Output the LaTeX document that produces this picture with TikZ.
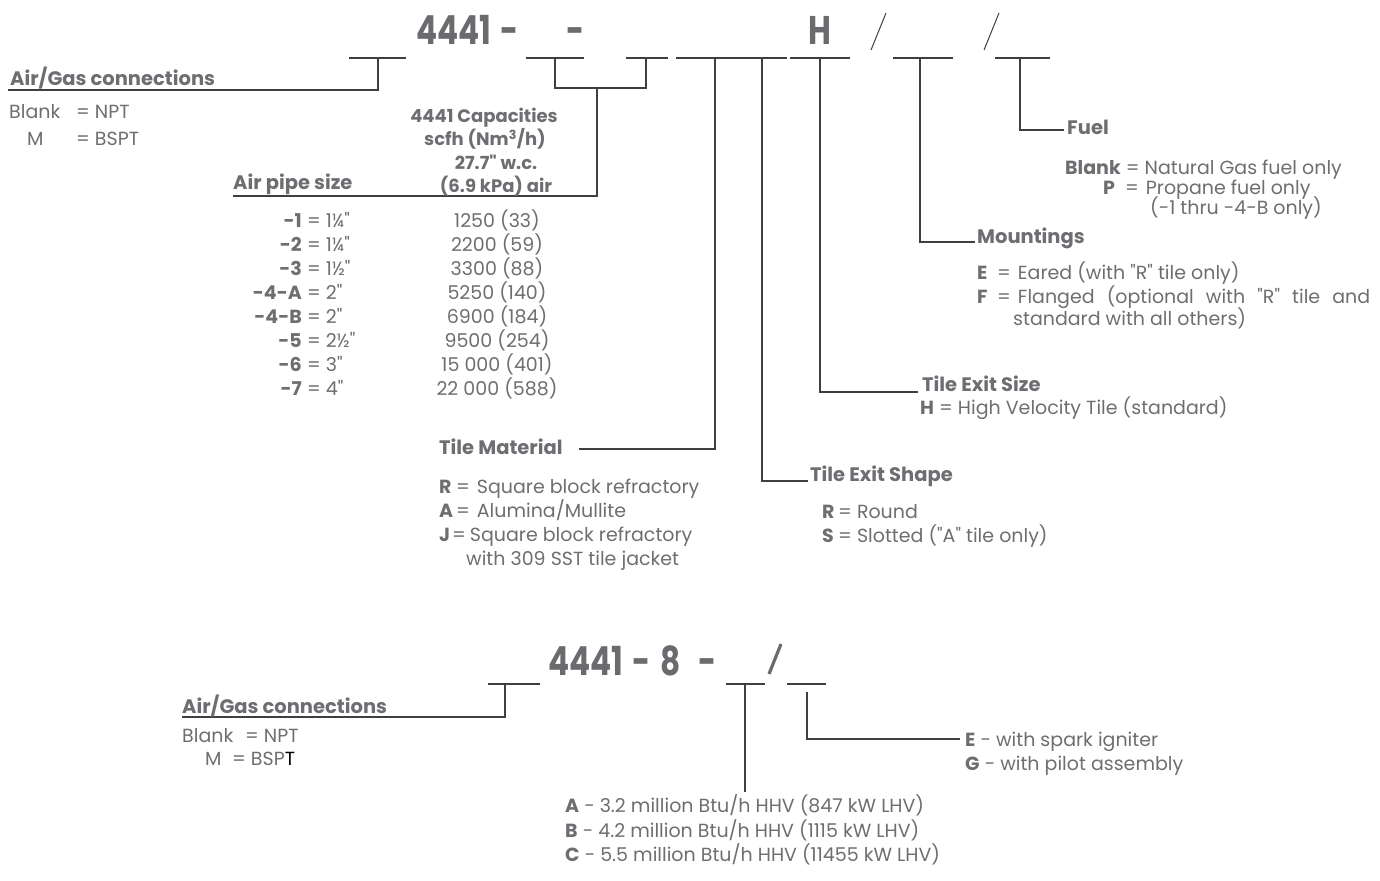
\documentclass[tikz,border=0pt]{standalone}
\usepackage{fontspec}
\setmainfont{Poppins}[Ligatures=TeXOff]
\newfontfamily\bigfam{Poppins}[FakeStretch=0.78]
\definecolor{tg}{HTML}{6D6E71}
\definecolor{bg}{HTML}{6A6B6E}
\definecolor{lg}{HTML}{3F3F3F}
\newcommand\rfont{\fontsize{19}{22}\selectfont}
\newcommand\hfont{\fontsize{19.5}{22}\selectfont\bfseries}
\newcommand\cfont{\fontsize{18}{22}\selectfont\bfseries}
\newcommand\bigfnt{\bigfam\fontsize{40}{44}\selectfont\bfseries}
\begin{document}
\begin{tikzpicture}[x=1pt,y=-1pt,
  txt/.style={inner sep=0pt, anchor=base west, text=tg, font=\rfont},
  txtc/.style={txt, anchor=base},
  txte/.style={txt, anchor=base east},
  hd/.style={txt, font=\hfont},
  hdc/.style={txt, anchor=base, font=\cfont},
  big/.style={txt, font=\bigfnt, text=bg},
  ln/.style={draw=lg, line width=1.2pt},
  sl/.style={draw=lg, line width=1pt},
  bsl/.style={draw=bg, line width=3.2pt}]
\useasboundingbox (0,0) rectangle (1380,880);

% ---------------- top code line ----------------
\node[big] (n4441) at (416,45) {4441};
\node[big] (dash0) at (500,45) {-};
\node[big] (dash1) at (566,45) {-};
\node[big] (hh) at (808,45) {H};
\coordinate (s1a) at (871,50); \coordinate (s1b) at (886,13);
\coordinate (s2a) at (984,50); \coordinate (s2b) at (999,13);
\draw[sl] (s1a) -- (s1b);
\draw[sl] (s2a) -- (s2b);

% segments
\coordinate (A1) at (349,58); \coordinate (A2) at (406,58);
\coordinate (B1) at (526,58); \coordinate (B2) at (584,58);
\coordinate (C1) at (626,58); \coordinate (C2) at (668,58);
\coordinate (D1) at (676,58); \coordinate (D2) at (787,58);
\coordinate (E1) at (790,58); \coordinate (E2) at (850,58);
\coordinate (F1) at (893,58); \coordinate (F2) at (953,58);
\coordinate (G1) at (995,58); \coordinate (G2) at (1050,58);
\foreach \s in {A,B,C,D,E,F,G} {\draw[ln] (\s1) -- (\s2);}

% A: air/gas connections
\coordinate (Ad) at (378,58); \coordinate (Ab) at (378,90); \coordinate (Al) at (8,90);
\draw[ln] (Ad) -- (Ab) -- (Al);
% B/C: air pipe size
\coordinate (Bd) at (555,58); \coordinate (Bb) at (555,88);
\coordinate (Cd) at (646,58); \coordinate (Cb) at (646,88);
\coordinate (BCm) at (597,88); \coordinate (BCb) at (597,196); \coordinate (BCl) at (233,196);
\draw[ln] (Bd) -- (Bb) -- (Cb) -- (Cd);
\draw[ln] (BCm) -- (BCb) -- (BCl);
% D: tile material, tile exit shape
\coordinate (Dd1) at (715,58); \coordinate (Dd1b) at (715,449); \coordinate (Dl) at (579,449);
\coordinate (Dd2) at (762,58); \coordinate (Dd2b) at (762,481); \coordinate (Dr) at (808,481);
\draw[ln] (Dd1) -- (Dd1b) -- (Dl);
\draw[ln] (Dd2) -- (Dd2b) -- (Dr);
% E: tile exit size
\coordinate (Ed) at (820,58); \coordinate (Eb) at (820,392); \coordinate (Er) at (918,392);
\draw[ln] (Ed) -- (Eb) -- (Er);
% F: mountings
\coordinate (Fd) at (920,58); \coordinate (Fb) at (920,242); \coordinate (Fr) at (975,242);
\draw[ln] (Fd) -- (Fb) -- (Fr);
% G: fuel
\coordinate (Gd) at (1020,58); \coordinate (Gb) at (1020,130); \coordinate (Gr) at (1064,130);
\draw[ln] (Gd) -- (Gb) -- (Gr);

% ---------------- Air/Gas connections ----------------
\node[hd] (agc) at (10,86) {Air/Gas connections};
\node[txt] (agc1a) at (9,119) {Blank};
\node[txt] (agc1b) at (76,119) {= NPT};
\node[txt] (agc2a) at (27,145) {M};
\node[txt] (agc2b) at (76,145) {= BSPT};

% ---------------- Capacities ----------------
\node[hdc] (cap1) at (484,123) {4441 Capacities};
\node[hdc] (cap2) at (485,146) {scfh (Nm\textsuperscript{3}/h)};
\node[hdc] (cap3) at (496,169) {27.7" w.c.};
\node[hdc] (cap4) at (496,192) {(6.9 kPa) air};

\node[hd] (aps) at (233,189) {Air pipe size};
\foreach \k/\a/\b/\c [count=\i from 0] in {p1/-1/1¼"/1250 (33), p2/-2/1¼"/2200 (59), p3/-3/1½"/3300 (88), p4/-4-A/2"/5250 (140), p5/-4-B/2"/6900 (184), p6/-5/2½"/9500 (254), p7/-6/3"/15 000 (401), p8/-7/4"/22 000 (588)} {
  \node[txte, font=\rfont\bfseries] (\k a) at (302,227+24*\i) {\a};
  \node[txt] (\k b) at (307,227+24*\i) {= \b};
  \node[txtc] (\k c) at (497,227+24*\i) {\c};
}

% ---------------- Tile material ----------------
\node[hd] (tm) at (439,454) {Tile Material};
\node[txt] (tm1) at (439,493) {\makebox[17pt][l]{\bfseries R}=\hspace{7pt}Square block refractory};
\node[txt] (tm2) at (439,517) {\makebox[17pt][l]{\bfseries A}=\hspace{7pt}Alumina/Mullite};
\node[txt] (tm3) at (439,541) {\makebox[13pt][l]{\bfseries J}=\hspace{4pt}Square block refractory};
\node[txt] (tm4) at (466,565) {with 309 SST tile jacket};

% ---------------- Tile exit shape ----------------
\node[hd] (tes) at (810,481) {Tile Exit Shape};
\node[txt] (tes1) at (822,518) {\makebox[16pt][l]{\bfseries R}= Round};
\node[txt] (tes2) at (822,542) {\makebox[16pt][l]{\bfseries S}= Slotted ("A" tile only)};

% ---------------- Tile exit size ----------------
\node[hd] (tsz) at (922,391) {Tile Exit Size};
\node[txt] (tsz1) at (920,414) {{\bfseries H} = High Velocity Tile (standard)};

% ---------------- Mountings ----------------
\node[hd] (mnt) at (977,243) {Mountings};
\node[txt] (mnt1) at (977,279) {\makebox[20pt][l]{\bfseries E}=\hspace{7pt}Eared (with "R" tile only)};
\node[txt] (mnt2) at (977,303) {\makebox[393pt][s]{\makebox[20pt][l]{\bfseries F}=\hspace{7pt}Flanged (optional with "R" tile and}};
\node[txt] (mnt3) at (1013,325) {standard with all others)};

% ---------------- Fuel ----------------
\node[hd] (fuel) at (1067,135) {Fuel};
\node[txt] (fuel1) at (1065,174) {{\bfseries Blank} = Natural Gas fuel only};
\node[txt] (fuel2) at (1103,194) {\makebox[22pt][l]{\bfseries P}=\hspace{7pt}Propane fuel only};
\node[txt] (fuel3) at (1150,214) {(-1 thru -4-B only)};

% ---------------- bottom code line ----------------
\node[big] (b4441) at (548,675) {4441};
\node[big] (bd1) at (632,675) {-};
\node[big] (b8) at (660,675) {8};
\node[big] (bd2) at (698,675) {-};
\coordinate (bs1) at (769,674); \coordinate (bs2) at (781,644);
\draw[bsl] (bs1) -- (bs2);
\coordinate (L1a) at (488,684); \coordinate (L1b) at (540,684);
\coordinate (L2a) at (726,684); \coordinate (L2b) at (765,684);
\coordinate (L3a) at (787,684); \coordinate (L3b) at (826,684);
\foreach \s in {L1,L2,L3} {\draw[ln] (\s a) -- (\s b);}
\coordinate (L1d) at (505,684); \coordinate (L1e) at (505,717); \coordinate (L1f) at (182,717);
\draw[ln] (L1d) -- (L1e) -- (L1f);
\coordinate (L2d) at (745,684); \coordinate (L2e) at (745,792);
\draw[ln] (L2d) -- (L2e);
\coordinate (L3d) at (807,692); \coordinate (L3e) at (807,739); \coordinate (L3f) at (960,739);
\draw[ln] (L3d) -- (L3e) -- (L3f);

\node[hd] (bagc) at (182,713) {Air/Gas connections};
\node[txt] (bagc1a) at (182,742) {Blank};
\node[txt] (bagc1b) at (245,742) {= NPT};
\node[txt] (bagc2a) at (205,765) {M};
\node[txt] (bagc2b) at (232,765) {= BSP\textcolor{black}{T}};

\node[txt] (eg1) at (965,746) {{\bfseries E} - with spark igniter};
\node[txt] (eg2) at (965,770) {{\bfseries G} - with pilot assembly};

\node[txt] (abc1) at (565,812) {{\bfseries A} - 3.2 million Btu/h HHV (847 kW LHV)};
\node[txt] (abc2) at (565,837) {{\bfseries B} - 4.2 million Btu/h HHV (1115 kW LHV)};
\node[txt] (abc3) at (565,861) {{\bfseries C} - 5.5 million Btu/h HHV (11455 kW LHV)};
\end{tikzpicture}
\end{document}
